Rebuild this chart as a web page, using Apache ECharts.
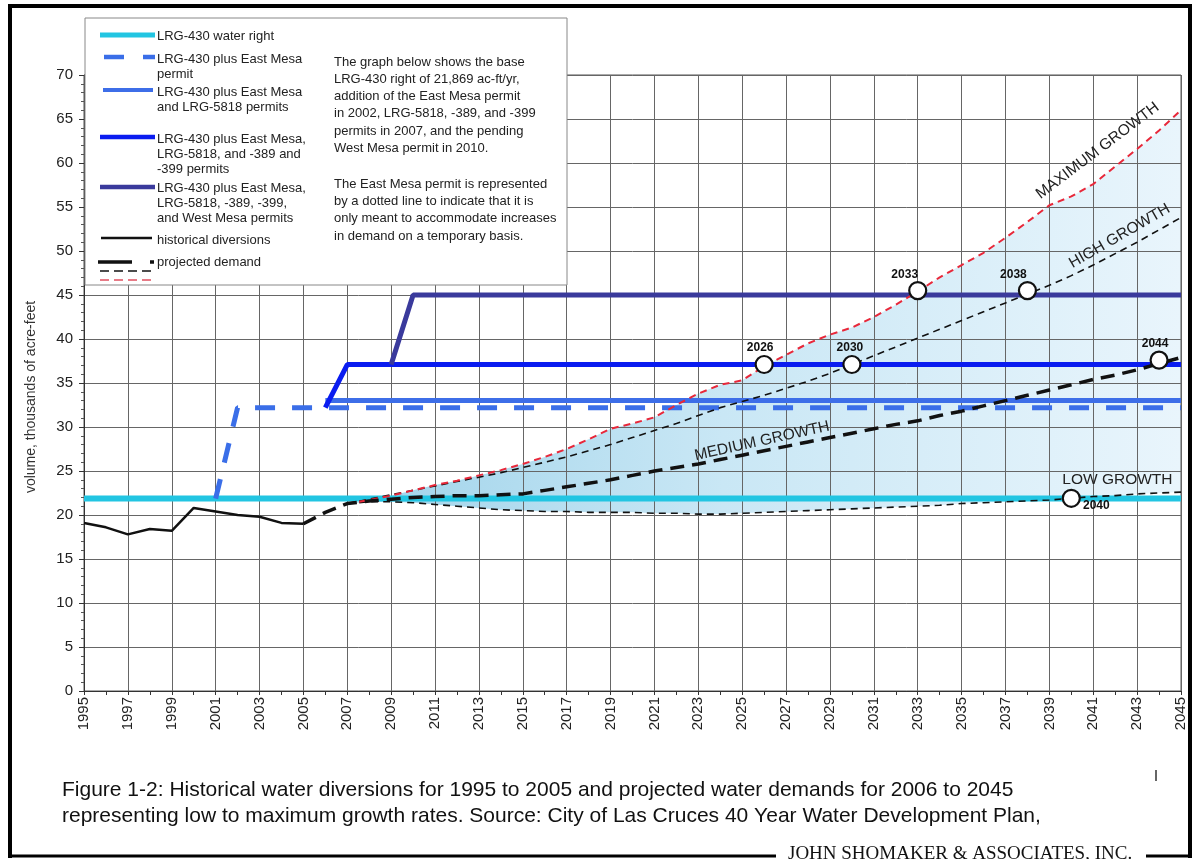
<!DOCTYPE html>
<html><head><meta charset="utf-8">
<script src="https://cdn.jsdelivr.net/npm/echarts@6/dist/echarts.min.js"></script>
<style>html,body{margin:0;padding:0;background:#fff}#c{width:1200px;height:859px}</style>
</head><body><div id="c"></div>
<script>
// ---------- data ----------
const years = [];
for (let y = 1995; y <= 2045; y++) years.push(String(y));

const waterRightYears = [1995, 2045];
const waterRightValues = [21.869, 21.869];
const eastMesaYears = [2001, 2002, 2045];
const eastMesaValues = [21.869, 32.2, 32.2];
const lrg5818Years = [2006, 2045];
const lrg5818Values = [33.0, 33.0];
const lrg389Years = [2006, 2007, 2045];
const lrg389Values = [32.2, 37.1, 37.1];
const westMesaYears = [2009, 2010, 2045];
const westMesaValues = [37.1, 45.0, 45.0];

const histYears = [1995,1996,1997,1998,1999,2000,2001,2002,2003,2004,2005];
const histValues = [19.1,18.6,17.8,18.4,18.2,20.8,20.4,20.0,19.8,19.1,19.0];

const mediumYears = [];
for (let y = 2005; y <= 2045; y++) mediumYears.push(y);
const mediumValues = [19.0,20.3,21.3,21.6,21.8,22.0,22.1,22.2,22.2,22.3,22.4,22.8,23.2,23.6,24.0,24.5,25.0,25.4,25.8,26.3,26.8,27.3,27.8,28.3,28.8,29.3,29.8,30.3,30.7,31.3,31.8,32.4,33.0,33.6,34.2,34.8,35.4,35.9,36.5,37.2,37.9];

const growthYears = [];
for (let y = 2007; y <= 2045; y++) growthYears.push(y);
const maxValues = [21.3,21.7,22.2,22.8,23.4,23.9,24.5,25.1,25.8,26.6,27.5,28.6,29.8,30.4,31.1,32.5,33.8,34.8,35.3,36.9,38.2,39.5,40.5,41.3,42.5,43.9,45.4,47.0,48.4,49.8,51.5,53.3,55.2,56.2,57.6,59.6,61.6,63.7,66.0];
const highValues = [21.3,21.8,22.3,22.8,23.3,23.8,24.3,24.8,25.4,26.0,26.6,27.3,28.0,28.8,29.6,30.4,31.3,32.2,32.9,33.6,34.4,35.2,36.1,37.1,38.1,39.1,40.1,41.1,42.1,43.1,44.1,45.1,46.1,47.2,48.4,49.7,51.0,52.4,53.8];
const lowValues = [21.3,21.5,21.5,21.4,21.2,21.0,20.8,20.6,20.5,20.4,20.4,20.3,20.3,20.3,20.2,20.2,20.1,20.1,20.2,20.3,20.4,20.5,20.6,20.7,20.8,20.9,21.0,21.1,21.3,21.4,21.5,21.6,21.7,21.9,22.1,22.2,22.4,22.5,22.6];

const markerYears = [2026, 2030, 2033, 2038, 2044, 2040];
const markerValues = [37.1, 37.1, 45.5, 45.5, 37.6, 21.9];
const markerLabels = ['2026', '2030', '2033', '2038', '2044', '2040'];

// ---------- helpers ----------
const pairs = (ys, vs) => ys.map((y, i) => [String(y), vs[i]]);
const bandValues = maxValues.map((v, i) => +(v - lowValues[i]).toFixed(2));
const FONT = 'Liberation Sans, Arial, sans-serif';

function lineSeries(name, ys, vs, color, width, type, z) {
  return {
    name, type: 'line', data: pairs(ys, vs), symbol: 'none', silent: true,
    z: z, lineStyle: { color, width, type: type || 'solid', cap: 'butt' }
  };
}

const labelOffsets = [[-4, 2], [-2, 2], [-13, 3], [-14, 3], [-4, 2], [25, -11]];
const labelPos = ['top', 'top', 'top', 'top', 'top', 'bottom'];

const chart = echarts.init(document.getElementById('c'), null, { renderer: 'canvas' });

const option = {
  animation: false,
  backgroundColor: '#fff',
  grid: { left: 84, right: 19, top: 75, bottom: 168, show: true, borderColor: '#555', borderWidth: 1, backgroundColor: 'transparent' },
  xAxis: {
    type: 'category', data: years, boundaryGap: false,
    axisLine: { lineStyle: { color: '#333', width: 1 } },
    axisTick: { interval: 0, length: 4, lineStyle: { color: '#333' } },
    axisLabel: { interval: 1, rotate: 90, margin: 6, fontSize: 15, color: '#222', fontFamily: FONT },
    splitLine: { show: true, interval: 1, lineStyle: { color: '#666', width: 1 } }
  },
  yAxis: {
    type: 'value', min: 0, max: 70, interval: 5,
    name: 'volume, thousands of acre-feet', nameLocation: 'middle', nameGap: 46,
    nameTextStyle: { fontSize: 14, color: '#333', fontFamily: FONT, padding: [0, 28, 0, 0] },
    axisLine: { show: true, lineStyle: { color: '#333', width: 1 } },
    axisTick: { show: true, length: 5, lineStyle: { color: '#333' } },
    minorTick: { show: true, splitNumber: 5, length: 3, lineStyle: { color: '#555' } },
    axisLabel: { margin: 11, fontSize: 15, color: '#222', fontFamily: FONT },
    splitLine: { show: true, lineStyle: { color: '#666', width: 1 } }
  },
  series: [
    { name: 'lowBase', type: 'line', stack: 'band', data: pairs(growthYears, lowValues), symbol: 'none', silent: true,
      lineStyle: { opacity: 0 }, z: -1 },
    { name: 'band', type: 'line', stack: 'band', data: pairs(growthYears, bandValues), symbol: 'none', silent: true,
      lineStyle: { opacity: 0 }, z: -1,
      areaStyle: { opacity: 1, color: new echarts.graphic.LinearGradient(0, 0, 1, 0, [
        { offset: 0, color: '#9fd3ea' }, { offset: 0.45, color: '#c9e7f5' }, { offset: 1, color: '#e9f5fc' }]) } },
    lineSeries('LRG-430 water right', waterRightYears, waterRightValues, '#22c5e2', 6, 'solid', 3),
    lineSeries('LRG-430 plus East Mesa permit', eastMesaYears, eastMesaValues, '#3a6ee8', 5, [20, 17], 3),
    lineSeries('LRG-430 plus East Mesa and LRG-5818 permits', lrg5818Years, lrg5818Values, '#3d6ee8', 5, 'solid', 3),
    lineSeries('LRG-430 plus East Mesa, LRG-5818, and -389 and -399 permits', lrg389Years, lrg389Values, '#0a1cf0', 5, 'solid', 3),
    lineSeries('LRG-430 plus East Mesa, LRG-5818, -389, -399, and West Mesa permits', westMesaYears, westMesaValues, '#3a3a9c', 5, 'solid', 3),
    lineSeries('historical diversions', histYears, histValues, '#111', 2.5, 'solid', 4),
    lineSeries('low growth', growthYears, lowValues, '#111', 1.6, [7, 5], 4),
    lineSeries('high growth', growthYears, highValues, '#111', 1.6, [7, 5], 4),
    lineSeries('maximum growth', growthYears, maxValues, '#e8283a', 2, [7, 5], 4),
    lineSeries('medium growth', mediumYears, mediumValues, '#111', 3.5, [14, 8], 5),
    { name: 'markers', type: 'scatter', silent: true, z: 6,
      data: markerYears.map((y, i) => ({
        value: [String(y), markerValues[i]],
        label: { show: true, formatter: markerLabels[i], position: labelPos[i], offset: labelOffsets[i], distance: 3 }
      })),
      symbol: 'circle', symbolSize: 17,
      itemStyle: { color: '#fff', borderColor: '#111', borderWidth: 2.2, opacity: 1 },
      label: { fontSize: 12, fontWeight: 'bold', color: '#111', fontFamily: FONT } }
  ]
};
chart.setOption(option);

// ---------- annotations / legend / caption ----------
const p0 = chart.convertToPixel({ gridIndex: 0 }, ['1995', 0]);
const p1 = chart.convertToPixel({ gridIndex: 0 }, ['2045', 70]);
function at(year, value) {
  return [p0[0] + (year - 1995) / 50 * (p1[0] - p0[0]), p0[1] + value / 70 * (p1[1] - p0[1])];
}
function growthLabel(text, year, value, deg) {
  const p = at(year, value);
  return { type: 'text', x: p[0], y: p[1], rotation: deg * Math.PI / 180, z: 20, silent: true,
    style: { text, fill: '#222', font: '15.5px ' + FONT, align: 'center', verticalAlign: 'middle' } };
}
function gLine(x1, y1, x2, y2, color, w, dash) {
  return { type: 'line', shape: { x1, y1, x2, y2 }, z: 31, silent: true,
    style: { stroke: color, lineWidth: w, lineDash: dash || null } };
}
function gText(text, x, y, size, extra) {
  return Object.assign({ type: 'text', x, y, z: 31, silent: true,
    style: Object.assign({ text, fill: '#222', font: (size || 13) + 'px ' + FONT, verticalAlign: 'middle' }, extra || {}) });
}

const legendEls = [
  { type: 'rect', shape: { x: 85, y: 18, width: 482, height: 267 }, z: 30, silent: true,
    style: { fill: '#fff', stroke: '#888', lineWidth: 1 } },
  gLine(100, 35, 155, 35, '#22c5e2', 5),
  gLine(104, 57, 124, 57, '#3a6ee8', 4.5), gLine(143, 57, 155, 57, '#3a6ee8', 4.5),
  gLine(103, 90, 153, 90, '#3d6ee8', 4),
  gLine(100, 137, 155, 137, '#0a1cf0', 4.5),
  gLine(100, 187, 155, 187, '#3a3a9c', 4.5),
  gLine(101, 238, 152, 238, '#111', 2.5),
  gLine(98, 262, 132, 262, '#111', 3.5), gLine(150, 262, 154, 262, '#111', 3.5),
  gLine(100, 271, 153, 271, '#111', 1.5, [9, 5]),
  gLine(100, 280, 153, 280, '#e05060', 1.5, [9, 5]),
  gText('LRG-430 water right', 157, 36),
  gText('LRG-430 plus East Mesa', 157, 59), gText('permit', 157, 74),
  gText('LRG-430 plus East Mesa', 157, 92), gText('and LRG-5818 permits', 157, 107),
  gText('LRG-430 plus East Mesa,', 157, 139), gText('LRG-5818, and -389 and', 157, 154), gText('-399 permits', 157, 169),
  gText('LRG-430 plus East Mesa,', 157, 188), gText('LRG-5818, -389, -399,', 157, 203), gText('and West Mesa permits', 157, 218),
  gText('historical diversions', 157, 240),
  gText('projected demand', 157, 262),
  gText('The graph below shows the base', 334, 62),
  gText('LRG-430 right of 21,869 ac-ft/yr,', 334, 79.5),
  gText('addition of the East Mesa permit', 334, 96.5),
  gText('in 2002, LRG-5818, -389, and -399', 334, 113.5),
  gText('permits in 2007, and the pending', 334, 131),
  gText('West Mesa permit in 2010.', 334, 148),
  gText('The East Mesa permit is represented', 334, 184),
  gText('by a dotted line to indicate that it is', 334, 201),
  gText('only meant to accommodate increases', 334, 218),
  gText('in demand on a temporary basis.', 334, 236)
];

const capFont = '21px Liberation Sans, Arial, sans-serif';
const frameEls = [
  gLine(10, 4, 10, 858, '#000', 4),
  gLine(8, 6, 1192, 6, '#000', 4),
  gLine(1190, 4, 1190, 858, '#000', 4),
  gLine(8, 856, 776, 856, '#000', 3),
  gLine(1146, 856, 1192, 856, '#000', 3),
  gLine(1156, 770, 1156, 781, '#333', 1.5),
  gText('Figure 1-2: Historical water diversions for 1995 to 2005 and projected water demands for 2006 to 2045', 62, 790, 21, { fill: '#111', font: capFont }),
  gText('representing low to maximum growth rates. Source: City of Las Cruces 40 Year Water Development Plan,', 62, 816, 21, { fill: '#111', font: capFont }),
  gText('JOHN SHOMAKER & ASSOCIATES, INC.', 788, 845, 19, { fill: '#111', font: '19px Liberation Serif, Times New Roman, serif', verticalAlign: 'top' })
];

chart.setOption({
  graphic: [
    growthLabel('MAXIMUM GROWTH', 2041.2, 61.4, 37),
    growthLabel('HIGH GROWTH', 2042.2, 51.7, 30),
    growthLabel('MEDIUM GROWTH', 2025.9, 28.4, 12.5),
    growthLabel('LOW GROWTH', 2042.1, 24.0, 0)
  ].concat(legendEls, frameEls)
});
</script>
</body></html>
